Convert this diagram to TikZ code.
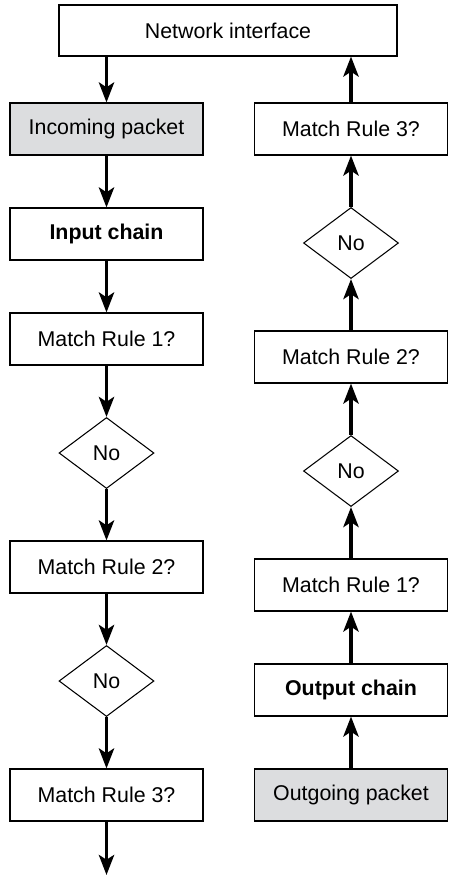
\documentclass[tikz,border=0pt]{standalone}
\usepackage{fontspec}
\setmainfont{Liberation Sans}
\usetikzlibrary{arrows.meta,shapes,positioning}
\definecolor{pktgray}{RGB}{220,221,223}
\tikzstyle{arrow} = [line width=2.6pt,-{Stealth[length=0.5cm,width=0.38cm,inset=0.12cm]}]
\tikzstyle{rulebox} = [rectangle, minimum width=4.825cm, minimum height=1.3cm, text centered, draw, line width=0.75pt]
\tikzstyle{packet} = [rulebox, fill=pktgray]
\tikzstyle{nomatch} = [diamond, minimum width=2.375cm, minimum height=1.775cm, inner sep=0pt, draw, line width=0.75pt]

\begin{document}
\begin{tikzpicture}[node distance=2.625cm, font=\fontsize{15.2}{18}\selectfont]
\useasboundingbox (0,0) rectangle (11.225,-22.075);
% Network interface on top
\node (netif) [rulebox, minimum width=8.45cm, minimum height=1.275cm] at (5.7,-0.7625) {Network interface};

% Input chain (left)
\node (inpkt) [packet] at (2.6625,-3.225) {Incoming packet};
\node (inchain) [rulebox, below of=inpkt] {\textbf{Input chain}};
\node (inrule1) [rulebox, below of=inchain] {Match Rule 1?};
\node (inno1) [nomatch, below of=inrule1, node distance=2.85cm] {No};
\node (inrule2) [rulebox, below of=inno1, node distance=2.85cm] {Match Rule 2?};
\node (inno2) [nomatch, below of=inrule2, node distance=2.85cm] {No};
\node (inrule3) [rulebox, below of=inno2, node distance=2.85cm] {Match Rule 3?};
\path (inrule3) ++(0,-2) coordinate (exit);

% Output chain (right)
\node (outrule3) [rulebox, right of=inpkt, node distance=6.1125cm] {Match Rule 3?};
\node (outno2) [nomatch, below of=outrule3, node distance=2.85cm] {No};
\node (outrule2) [rulebox, below of=outno2, node distance=2.85cm] {Match Rule 2?};
\node (outno1) [nomatch, below of=outrule2, node distance=2.85cm] {No};
\node (outrule1) [rulebox, below of=outno1, node distance=2.85cm] {Match Rule 1?};
\node (outchain) [rulebox, below of=outrule1] {\textbf{Output chain}};
\node (outpkt) [packet, below of=outchain] {Outgoing packet};

% Arrows down the input side
\draw[arrow] (netif.south -| inpkt.north) -- (inpkt.north);
\draw[arrow] (inpkt) -- (inchain);
\draw[arrow] (inchain) -- (inrule1);
\draw[arrow] (inrule1) -- (inno1);
\draw[arrow] (inno1) -- (inrule2);
\draw[arrow] (inrule2) -- (inno2);
\draw[arrow] (inno2) -- (inrule3);
\draw[arrow] (inrule3) -- (exit);

% Arrows up the output side
\draw[arrow] (outpkt) -- (outchain);
\draw[arrow] (outchain) -- (outrule1);
\draw[arrow] (outrule1) -- (outno1);
\draw[arrow] (outno1) -- (outrule2);
\draw[arrow] (outrule2) -- (outno2);
\draw[arrow] (outno2) -- (outrule3);
\draw[arrow] (outrule3.north) -- (outrule3.north |- netif.south);
\end{tikzpicture}
\end{document}
